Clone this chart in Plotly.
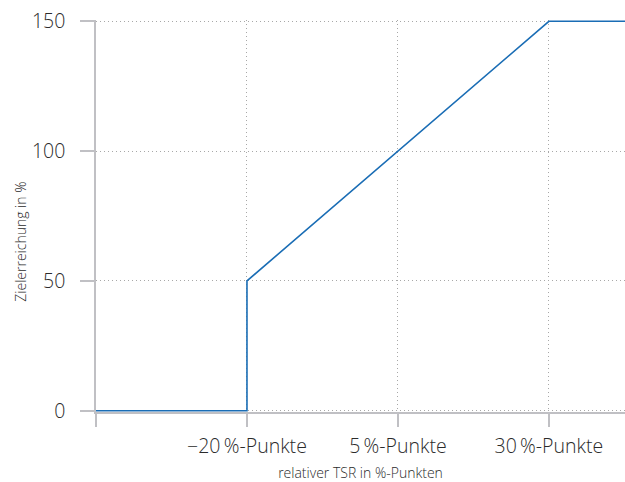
import plotly.graph_objects as go

# data
x_vals = [-45, -20, -20, 5, 30, 42.6]
y_vals = [0, 0, 50, 100, 150, 150]
x_tickvals = [-45, -20, 5, 30]
x_ticktext = ["", "\u221220\u2009%-Punkte", "5\u2009%-Punkte", "30\u2009%-Punkte"]
y_tickvals = [0, 50, 100, 150]
y_ticktext = ["0", "50", "100", "150"]
x_title = "relativer TSR in %-Punkten"
y_title = "Zielerreichung in %"

axis_col = "#c0c0c4"
grid_col = "#a8a8a8"
text_col = "#2b2b2b"
font_family = "Open Sans, Noto Sans, sans-serif"

fig = go.Figure()
fig.add_trace(go.Scatter(x=x_vals, y=y_vals, mode="lines",
                         line=dict(color="#1a6db5", width=1.6),
                         hoverinfo="skip", showlegend=False, cliponaxis=False))

fig.update_layout(
    width=625, height=482,
    margin=dict(l=96, r=0, t=20, b=70),
    paper_bgcolor="white", plot_bgcolor="white",
    font=dict(family=font_family, color=text_col, weight=300),
    showlegend=False,
)
fig.update_xaxes(
    range=[-45, 42.6], tickvals=x_tickvals, ticktext=x_ticktext,
    automargin=False, layer="below traces",
    showline=True, linecolor=axis_col, linewidth=1.5,
    ticks="outside", ticklen=13, tickcolor=axis_col, tickwidth=1.5,
    showgrid=True, gridcolor=grid_col, griddash="1px,3px", gridwidth=1,
    zeroline=False, tickfont=dict(size=19.5, color=text_col, weight=300),
    ticklabelstandoff=3,
    title=dict(text=x_title, font=dict(size=14, color=text_col, weight=300), standoff=10),
)
fig.update_yaxes(
    range=[-0.5, 150.5], tickvals=y_tickvals, ticktext=y_ticktext,
    automargin=False, layer="below traces",
    showline=True, linecolor=axis_col, linewidth=1.5,
    ticks="outside", ticklen=14, tickcolor=axis_col, tickwidth=1.5,
    showgrid=True, gridcolor=grid_col, griddash="1px,3px", gridwidth=1,
    zeroline=False, tickfont=dict(size=19.5, color=text_col, weight=300),
    ticklabelstandoff=11,
)
# y title placed a little below the plot's middle, as in the reference
fig.add_annotation(text=y_title, xref="paper", yref="paper",
                   x=-0.142, y=0.434, xanchor="center", yanchor="middle",
                   textangle=-90, showarrow=False,
                   font=dict(size=14, color=text_col, weight=300))

# remove the default 8px page margin so the figure fills the window exactly
fig.write_html("out.html", config={"displayModeBar": False},
               post_script="document.body.style.margin='0';document.body.style.overflow='hidden';")
